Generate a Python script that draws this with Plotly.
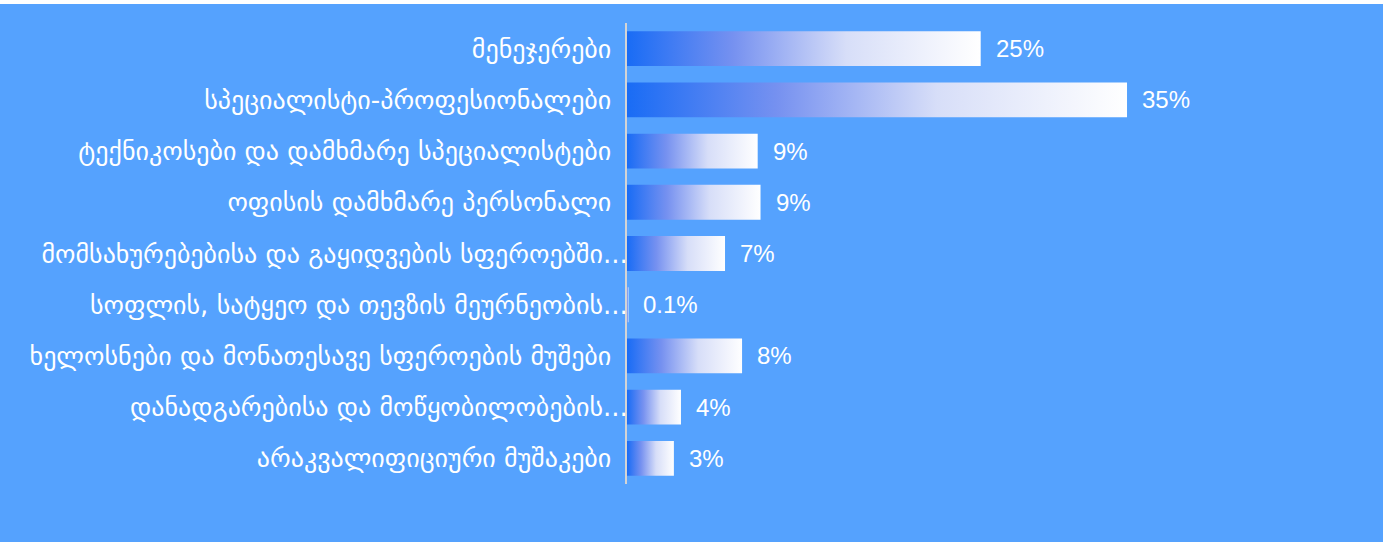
import plotly.graph_objects as go

categories = [
    "მენეჯერები",
    "სპეციალისტი-პროფესიონალები",
    "ტექნიკოსები და დამხმარე სპეციალისტები",
    "ოფისის დამხმარე პერსონალი",
    "მომსახურებებისა და გაყიდვების სფეროებში...",
    "სოფლის, სატყეო და თევზის მეურნეობის...",
    "ხელოსნები და მონათესავე სფეროების მუშები",
    "დანადგარებისა და მოწყობილობების...",
    "არაკვალიფიციური მუშაკები",
]
values = [24.9, 35.2, 9.2, 9.4, 6.9, 0.1, 8.1, 3.8, 3.3]
value_labels = ["25%", "35%", "9%", "9%", "7%", "0.1%", "8%", "4%", "3%"]
truncated = [False, False, False, False, True, True, False, True, False]

BG = "#55a2fe"
half = 0.34
grad = [[0, "rgb(25,108,245)"], [0.3, "rgb(118,145,240)"],
        [0.62, "rgb(215,222,248)"], [1, "rgb(255,255,255)"]]

fig = go.Figure()
for i, v in enumerate(values):
    fig.add_trace(go.Scatter(
        x=[0, v, v, 0, 0],
        y=[i - half, i - half, i + half, i + half, i - half],
        mode="lines", line=dict(width=0),
        fill="toself",
        fillgradient=dict(type="horizontal", colorscale=grad),
        hoverinfo="skip", showlegend=False,
    ))

for i, (v, t) in enumerate(zip(values, value_labels)):
    fig.add_annotation(x=v, y=i, text=t, showarrow=False, xanchor="left",
                       yanchor="middle", xshift=13,
                       font=dict(family="Liberation Sans, Arial", size=24, color="white"))

ticktext = [c if tr else c + "\u00a0\u00a0" for c, tr in zip(categories, truncated)]

fig.update_layout(
    width=1383, height=538,
    paper_bgcolor=BG, plot_bgcolor=BG,
    margin=dict(l=627, r=50, t=19, b=58),
    xaxis=dict(range=[0, 49.7], visible=False, fixedrange=True),
    yaxis=dict(
        range=[8.5, -0.5], tickmode="array",
        tickvals=list(range(len(categories))), ticktext=ticktext,
        showgrid=False, zeroline=False, showline=True,
        linecolor="#d4d4d4", linewidth=2, ticks="",
        ticklabelstandoff=-8,
        tickfont=dict(family="DejaVu Sans", size=26, color="white"),
    ),
)

fig.write_html("out.html", post_script="document.body.style.margin='4px 0 0 0';")
